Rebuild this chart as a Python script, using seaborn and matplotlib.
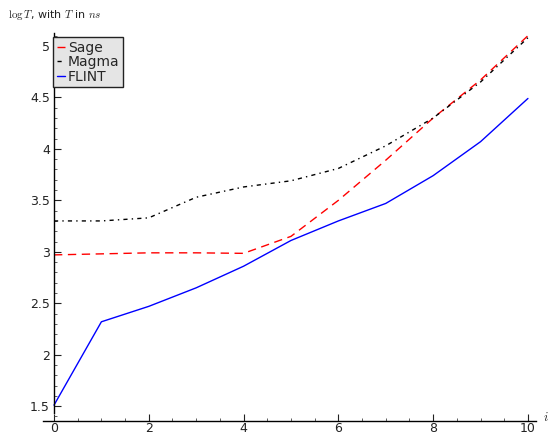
import numpy as np
import pandas as pd
import seaborn as sns
import matplotlib
matplotlib.use("Agg")
import matplotlib.pyplot as plt
from matplotlib.ticker import MultipleLocator

sns.set_theme(style="white")
plt.rcParams["font.family"] = ["DejaVu Sans"]
plt.rcParams["mathtext.fontset"] = "cm"

# log10 of running time (ns) against i
i_values = list(range(11))
sage = [2.97, 2.98, 2.99, 2.99, 2.985, 3.15, 3.50, 3.89, 4.30, 4.67, 5.10]
magma = [3.30, 3.30, 3.33, 3.53, 3.63, 3.69, 3.81, 4.03, 4.30, 4.65, 5.08]
flint = [1.51, 2.32, 2.47, 2.65, 2.86, 3.11, 3.30, 3.47, 3.74, 4.07, 4.49]

fig = plt.figure(figsize=(5.5, 4.36), dpi=100)
ax = fig.add_axes([43 / 550, 1 - 421 / 436, (536 - 43) / 550, (421 - 33) / 436])

sns.lineplot(x=i_values, y=sage, ax=ax, color="#ff0000", lw=1,
             label="Sage")
ax.lines[-1].set_dashes([6, 4])
sns.lineplot(x=i_values, y=magma, ax=ax, color="black", lw=1,
             label="Magma")
ax.lines[-1].set_dashes([3, 3, 1, 3])
sns.lineplot(x=i_values, y=flint, ax=ax, color="#0000ff", lw=1,
             label="FLINT")

ax.set_xlim(-0.232, 10.17)
ax.set_ylim(1.356, 5.126)

for side in ["top", "right"]:
    ax.spines[side].set_visible(False)
ax.spines["left"].set_position(("data", 0))
ax.spines["left"].set_bounds(1.43, 5.126)
for side in ["left", "bottom"]:
    ax.spines[side].set_color("black")
    ax.spines[side].set_linewidth(1)

ax.xaxis.set_minor_locator(MultipleLocator(0.5))
ax.yaxis.set_minor_locator(MultipleLocator(0.1))
ax.set_yticks([1.5, 2, 2.5, 3, 3.5, 4, 4.5, 5])
ax.set_yticklabels(["1.5", "2", "2.5", "3", "3.5", "4", "4.5", "5"])
ax.set_xticks([0, 2, 4, 6, 8, 10])
ax.set_xticklabels(["0", "2", "4", "6", "8", "10"])
ax.tick_params(which="major", direction="in", length=5, width=0.8,
               color="#222222", labelsize=9, labelcolor="#222222",
               bottom=True, left=True)
ax.tick_params(axis="x", which="major", pad=1)
ax.tick_params(axis="y", which="major", pad=3)
ax.tick_params(which="minor", direction="in", length=2.5, width=0.6,
               color="#444444", bottom=True, left=True)

ax.set_xlabel("")
ax.set_ylabel("")
fig.text(8 / 550, 1 - 15 / 436, r"$\log T$, with $T$ in $ns$",
         fontsize=8, ha="left", va="center", color="#222222")
fig.text(543 / 550, 1 - 417 / 436, r"$i$", fontsize=9,
         ha="left", va="center", color="#222222")

leg = ax.legend(loc="upper left", bbox_to_anchor=(0.012, 1.0),
                handlelength=0.6, handletextpad=0.2, borderpad=0.25,
                labelspacing=0.05, fontsize=10, frameon=True,
                fancybox=False, borderaxespad=0.3)
leg.get_frame().set_facecolor("#e5e5e5")
leg.get_frame().set_edgecolor("#222222")
leg.get_frame().set_linewidth(1)
leg.get_frame().set_alpha(1)

fig.savefig("out.png", dpi=100)
